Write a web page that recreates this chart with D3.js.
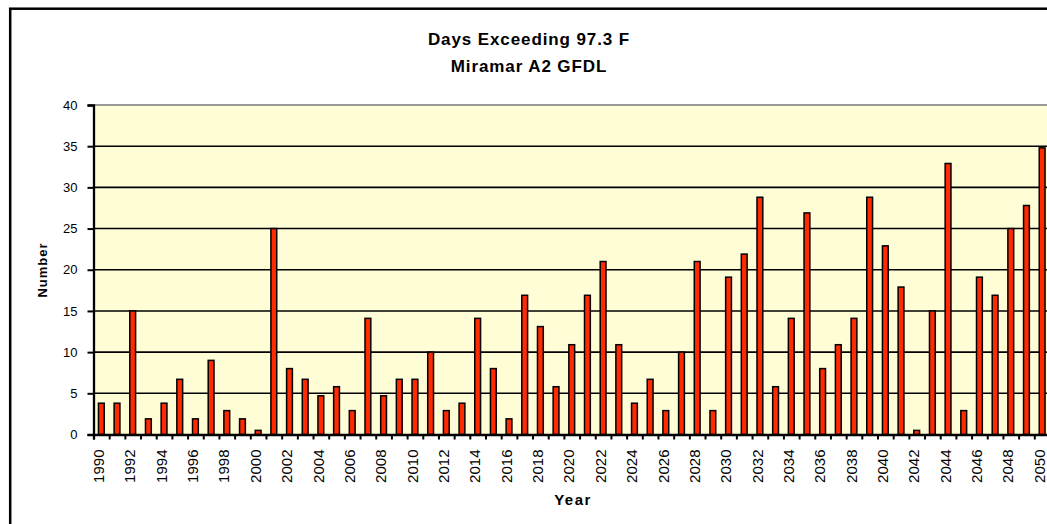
<!DOCTYPE html>
<html>
<head>
<meta charset="utf-8">
<script src="https://cdn.jsdelivr.net/npm/d3@7"></script>
<style>
  html, body { margin: 0; padding: 0; background: #fff; overflow: hidden; }
  text { font-family: Arial, "Liberation Sans", sans-serif; fill: #000; }
  .axis path, .axis line { stroke: #000; }
</style>
</head>
<body>
<div id="chart-area"></div>
<script>
// data
var years = d3.range(1990, 2051)
var days = [3.8, 3.8, 15, 1.9, 3.8, 6.7, 1.9, 9, 2.9, 1.9,
            0.5, 25, 8, 6.7, 4.7, 5.8, 2.9, 14.1, 4.7, 6.7,
            6.7, 10, 2.9, 3.8, 14.1, 8, 1.9, 16.9, 13.1, 5.8,
            10.9, 16.9, 21, 10.9, 3.8, 6.7, 2.9, 10, 21, 2.9,
            19.1, 21.9, 28.8, 5.8, 14.1, 26.9, 8, 10.9, 14.1, 28.8,
            22.9, 17.9, 0.5, 15, 32.9, 2.9, 19.1, 16.9, 25, 27.8,
            34.8]
var yTicks = [0, 5, 10, 15, 20, 25, 30, 35, 40]
var yearLabels = years.filter(function(d){ return d % 2 === 0 })
var titleLines = ["Days Exceeding 97.3 F", "Miramar A2 GFDL"]

var W = 1047, H = 524
var margin = {top: 105, left: 93.5}
var catWidth = 15.68
var width = years.length * catWidth
var height = 329.5

var svg = d3.select("#chart-area")
    .append("svg")
    .attr("width", W)
    .attr("height", H)

// outer chart border (runs past the window on right and bottom)
svg.append("rect")
    .attr("x", 10.2).attr("y", 8.7)
    .attr("width", 1100).attr("height", 600)
    .attr("fill", "#fff")
    .attr("stroke", "#000")
    .attr("stroke-width", 2.5)

svg.selectAll(".title")
    .data(titleLines)
    .enter().append("text")
    .attr("class", "title")
    .attr("x", 529)
    .attr("y", function(d, i){ return 45 + i * 26.5 })
    .attr("text-anchor", "middle")
    .attr("font-size", "17px")
    .attr("font-weight", "bold")
    .attr("letter-spacing", "0.9px")
    .text(function(d){ return d })

var group = svg.append("g")
    .attr("transform", "translate(" + margin.left + "," + margin.top + ")")

var convertToX = d3.scaleBand()
    .domain(years)
    .range([0, width])
    .padding(0)

var convertToY = d3.scaleLinear()
    .domain([0, 40])
    .range([height, 0])

// plot background
group.append("rect")
    .attr("width", width)
    .attr("height", height)
    .attr("fill", "#fffdd6")

group.append("line")
    .attr("x1", 0).attr("x2", width)
    .attr("y1", 0).attr("y2", 0)
    .attr("stroke", "#999")
    .attr("stroke-width", 2)

// gridlines
group.append("g")
    .selectAll("line")
    .data(yTicks.filter(function(d){ return d > 0 && d < 40 }))
    .enter().append("line")
    .attr("x1", 0).attr("x2", width)
    .attr("y1", function(d){ return convertToY(d) })
    .attr("y2", function(d){ return convertToY(d) })
    .attr("stroke", "#000")
    .attr("stroke-width", 1.6)

// bars
var barW = convertToX.bandwidth() * 0.37
group.selectAll(".bar")
    .data(days)
    .enter().append("rect")
    .attr("class", "bar")
    .attr("x", function(d, i){ return convertToX(years[i]) + (convertToX.bandwidth() - barW) / 2 })
    .attr("y", function(d){ return convertToY(d) })
    .attr("width", barW)
    .attr("height", function(d){ return height - convertToY(d) })
    .attr("fill", "#ff2a00")
    .attr("stroke", "#000")
    .attr("stroke-width", 1.5)

// y axis
var yAxisCall = d3.axisLeft(convertToY)
    .tickValues(yTicks)
    .tickSize(6)
    .tickPadding(10)

group.append("g")
    .attr("class", "axis y-axis")
    .call(yAxisCall)
    .call(function(g){
        g.select(".domain").attr("stroke-width", 2.3)
        g.selectAll(".tick line").attr("stroke-width", 2)
        g.selectAll("text").attr("font-size", "13px").attr("font-family", "Arial, 'Liberation Sans', sans-serif")
    })

// x axis: ticks on category boundaries
var boundary = d3.scaleLinear()
    .domain([0, years.length])
    .range([0, width])

group.append("g")
    .attr("class", "axis x-ticks")
    .attr("transform", "translate(0," + height + ")")
    .call(d3.axisBottom(boundary).tickValues(d3.range(years.length + 1)).tickSize(5).tickFormat(""))
    .call(function(g){
        g.select(".domain").attr("stroke-width", 2.3)
        g.selectAll(".tick line").attr("stroke-width", 2)
    })

// x axis labels, every other year
group.append("g")
    .attr("class", "axis x-labels")
    .attr("transform", "translate(0," + height + ")")
    .call(d3.axisBottom(convertToX).tickValues(yearLabels).tickSize(0))
    .call(function(g){
        g.select(".domain").remove()
        g.selectAll("text")
            .attr("font-size", "15px")
            .attr("font-family", "Arial, 'Liberation Sans', sans-serif")
            .attr("text-anchor", "end")
            .attr("transform", "rotate(-90)")
            .attr("x", -15)
            .attr("y", 0)
            .attr("dy", "0.18em")
    })

svg.append("text")
    .attr("transform", "translate(47,270) rotate(-90)")
    .attr("text-anchor", "middle")
    .attr("font-size", "13px")
    .attr("font-weight", "bold")
    .attr("letter-spacing", "1px")
    .text("Number")

svg.append("text")
    .attr("x", 573)
    .attr("y", 505)
    .attr("text-anchor", "middle")
    .attr("font-size", "15px")
    .attr("font-weight", "bold")
    .attr("letter-spacing", "1.5px")
    .text("Year")
</script>
</body>
</html>
